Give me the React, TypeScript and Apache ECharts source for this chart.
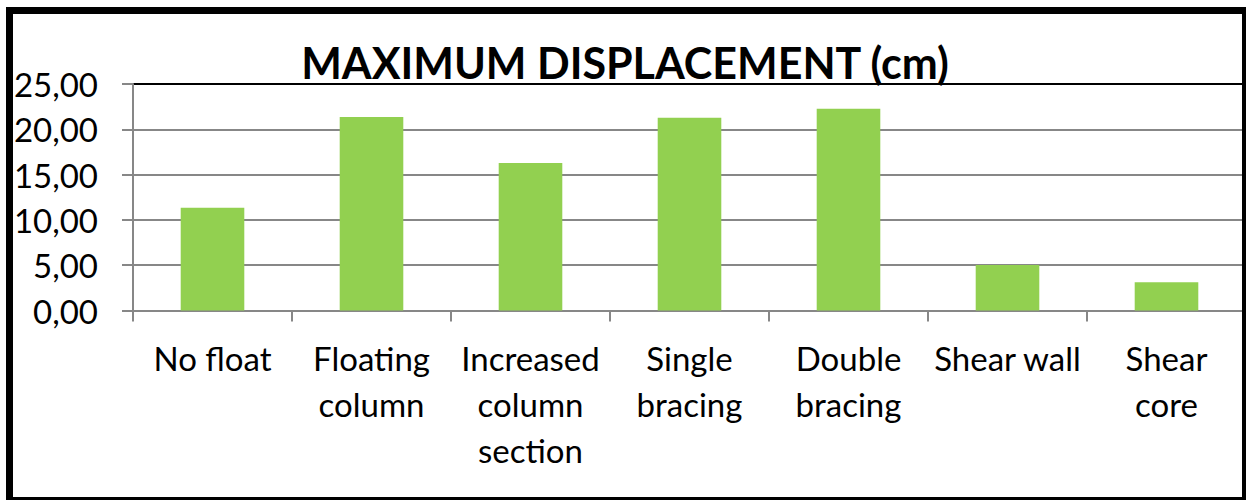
import React, { useEffect, useRef } from "react";
import * as echarts from "echarts";

const titleText = "MAXIMUM DISPLACEMENT (cm)";
const categories = [
  "No float",
  "Floating\ncolumn",
  "Increased\ncolumn\nsection",
  "Single\nbracing",
  "Double\nbracing",
  "Shear wall",
  "Shear\ncore",
];
const displacement = [11.35, 21.35, 16.27, 21.27, 22.26, 5.03, 3.12];
const yTicks = { min: 0, max: 25, interval: 5 };

const FONT = "Lato, 'Open Sans', sans-serif";
const GRID_GRAY = "#878787";

export default function App() {
  const ref = useRef<HTMLDivElement>(null);
  useEffect(() => {
    if (!ref.current) return;
    const chart = echarts.init(ref.current, null, { renderer: "svg" });
    chart.setOption({
      animation: false,
      backgroundColor: "#ffffff",
      grid: { left: 133, right: 0, top: 84, bottom: 189.5, containLabel: false },
      xAxis: {
        type: "category",
        data: categories,
        boundaryGap: true,
        axisLine: { show: true, lineStyle: { color: GRID_GRAY, width: 2 } },
        axisTick: { show: true, length: 11, inside: false, lineStyle: { color: GRID_GRAY, width: 2 } },
        axisLabel: {
          interval: 0,
          margin: 24,
          fontFamily: FONT,
          fontSize: 33,
          lineHeight: 46,
          color: "#000",
          align: "center",
        },
        splitLine: { show: false },
      },
      yAxis: {
        type: "value",
        min: yTicks.min,
        max: yTicks.max,
        interval: yTicks.interval,
        axisLine: { show: true, lineStyle: { color: GRID_GRAY, width: 2 } },
        axisTick: { show: true, length: 11, lineStyle: { color: GRID_GRAY, width: 2 } },
        axisLabel: {
          margin: 35,
          fontFamily: FONT,
          fontSize: 33,
          color: "#000",
          formatter: (v: number) => v.toFixed(2).replace(".", ","),
        },
        splitLine: {
          show: true,
          lineStyle: {
            color: [GRID_GRAY, GRID_GRAY, GRID_GRAY, GRID_GRAY, GRID_GRAY, "#000000"],
            width: 2,
          },
        },
      },
      series: [
        {
          type: "bar",
          data: displacement,
          barWidth: "40%",
          itemStyle: { color: "#92D050" },
        },
      ],
      graphic: [
        {
          type: "text",
          x: 625,
          y: 62,
          z: 10,
          style: {
            text: titleText,
            fontFamily: FONT,
            fontWeight: "bold",
            fontSize: 43,
            fill: "#000",
            textAlign: "center",
            textVerticalAlign: "middle",
          },
        },
        {
          type: "rect",
          z: 20,
          shape: { x: 9.5, y: 10.5, width: 1236, height: 490 },
          style: { fill: "none", stroke: "#000", lineWidth: 7 },
        },
      ],
    });
    return () => chart.dispose();
  }, []);
  return (
    <div
      ref={ref}
      style={{ position: "absolute", left: 0, top: 0, width: 1246, height: 500 }}
    />
  );
}
